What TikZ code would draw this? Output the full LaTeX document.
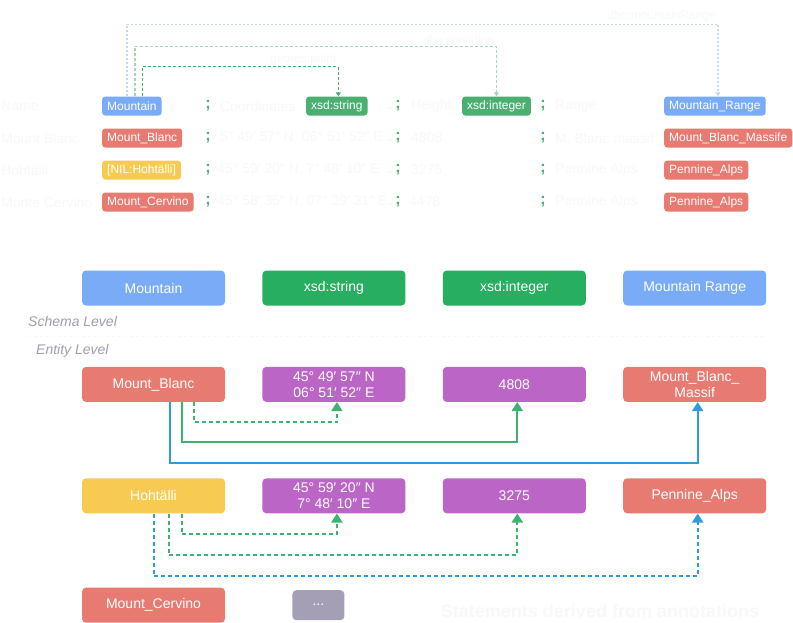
\documentclass[tikz,border=0pt]{standalone}
\usepackage{fontspec}
\setmainfont{Liberation Sans}
\usetikzlibrary{positioning,arrows.meta}

\definecolor{kgblue}{HTML}{7AABF7}
\definecolor{kggreen}{HTML}{27AE60}
\definecolor{kgred}{HTML}{E77B72}
\definecolor{kgpurple}{HTML}{BB66C7}
\definecolor{kgyellow}{HTML}{F7CB52}
\definecolor{kggray}{HTML}{A59FB6}
\definecolor{taggreen}{HTML}{4CAF72}
\definecolor{linkblue}{HTML}{2D9CDB}
\definecolor{linkgreen}{HTML}{3CB371}
\definecolor{paleblue}{HTML}{C3D5F8}
\definecolor{palegreen}{HTML}{A8D5B6}
\definecolor{levelgray}{HTML}{A29DB2}
\definecolor{faint}{HTML}{F8F8F8}

\tikzset{
  box/.style={rounded corners=4pt, minimum width=143pt, minimum height=35pt,
    inner sep=0pt, text=white, align=center, font=\fontsize{14}{16}\selectfont},
  tag/.style={rounded corners=3pt, minimum height=19pt, inner xsep=5pt,
    inner ysep=0pt, text=white, anchor=west, font=\fontsize{12}{14}\selectfont},
  faintcell/.style={text=faint, anchor=west, inner sep=0pt,
    font=\fontsize{14}{16}\selectfont},
  faintlabel/.style={text=faint, inner sep=1.5pt, font=\fontsize{12}{14}\selectfont},
  semi/.style={text=taggreen, inner sep=0pt, font=\fontsize{16}{18}\selectfont\bfseries},
  level/.style={text=levelgray, anchor=west, inner sep=0pt,
    font=\fontsize{14}{16}\selectfont\itshape},
  link/.style={line width=2pt, -{Triangle[width=11pt,length=9pt]}},
  dashlink/.style={link, dash pattern=on 4pt off 3pt},
  hop/.style={line width=1.3pt, -{Triangle[width=5pt,length=4pt]}},
}

\begin{document}
\begin{tikzpicture}[x=1pt, y=-1pt]
  \useasboundingbox[fill=white] (0,0) rectangle (793,622);

  % Define nodes (annotation table)
  \node[faintcell] (n1) at (1,106) {Name};
  \node[faintcell] (n2) at (1,138) {Mount Blanc};
  \node[faintcell] (n3) at (1,170) {Hohtälli};
  \node[faintcell] (n4) at (1,202) {Monte Cervino};
  \node[faintcell] (c1) at (220,106) {Coordinates};
  \node[faintcell] (c2) at (220,138) {5° 49′ 57″ N, 06° 51′ 52″ E};
  \node[faintcell] (c3) at (217,170) {45° 59′ 20″ N, 7° 48′ 10″ E};
  \node[faintcell] (c4) at (217,202) {45° 58′ 35″ N, 07° 39′ 31″ E};
  \node[faintcell] (e1) at (411,106) {Height};
  \node[faintcell] (e2) at (411,138) {4808};
  \node[faintcell] (e3) at (411,170) {3275};
  \node[faintcell] (e4) at (409,202) {4478};
  \node[faintcell] (r1) at (555,106) {Range};
  \node[faintcell] (r2) at (555,138) {M. Blanc massif};
  \node[faintcell] (r3) at (555,170) {Pennine Alps};
  \node[faintcell] (r4) at (555,202) {Pennine Alps};

  \node[semi] (s11) at (208,106) {;}; \node[semi] (s12) at (398,106) {;}; \node[semi] (s13) at (543,106) {;};
  \node[semi] (s21) at (208,138) {;}; \node[semi] (s22) at (398,138) {;}; \node[semi] (s23) at (543,138) {;};
  \node[semi] (s31) at (208,170) {;}; \node[semi] (s32) at (398,170) {;}; \node[semi] (s33) at (543,170) {;};
  \node[semi] (s41) at (208,202) {;}; \node[semi] (s42) at (398,202) {;}; \node[semi] (s43) at (543,202) {;};

  \node[tag, fill=kgblue]   (mtag)     at (102,106) {Mountain};
  \node[tag, fill=taggreen] (stag)     at (306,106) {xsd:string};
  \node[tag, fill=taggreen] (itag)     at (462,106) {xsd:integer};
  \node[tag, fill=kgblue]   (rtag)     at (664,106) {Mountain\_Range};
  \node[tag, fill=kgred]    (bltag)    at (102,138) {Mount\_Blanc};
  \node[tag, fill=kgred]    (massiftag) at (664,138) {Mount\_Blanc\_Massife};
  \node[tag, fill=kgyellow] (niltag)   at (102,170) {[NIL:Hohtälli]};
  \node[tag, fill=kgred]    (penAtag)  at (664,170) {Pennine\_Alps};
  \node[tag, fill=kgred]    (cervtag)  at (102,202) {Mount\_Cervino};
  \node[tag, fill=kgred]    (penBtag)  at (664,202) {Pennine\_Alps};

  % Connect nodes (annotation table)
  \draw[hop, paleblue, dash pattern=on 2pt off 2pt] ([xshift=-5pt]mtag.north) -- ++(0,-72)
    -| node[pos=0.5, faintlabel, anchor=south east] (lrange) {dbo:mountainRange} ([xshift=3pt]rtag.north);
  \draw[hop, palegreen, dash pattern=on 3pt off 2pt] ([xshift=3pt]mtag.north) -- ++(0,-50)
    -| node[pos=0.5, faintlabel, anchor=south east] (lelev) {dbo:elevation} (itag.north);
  \draw[hop, taggreen, line width=1pt, dash pattern=on 3pt off 2pt] ([xshift=11pt]mtag.north) -- ++(0,-29.5)
    -| node[pos=0.5, faintlabel, anchor=south east] (lpoint) {geores:point} ([xshift=1.5pt]stag.north);

  % Define nodes (graph)
  \node[box, fill=kgblue] (mountain) at (153.5,288) {Mountain};
  \node[box, fill=kggreen, right=37pt of mountain] (string) {xsd:string};
  \node[box, fill=kggreen, right=37pt of string] (integer) {xsd:integer};
  \node[box, fill=kgblue, right=37pt of integer] (range) {Mountain Range};

  \node[level] (schema) at (28,321) {Schema Level};
  \node[level] (entity) at (36,351) {Entity Level};
  \draw[faint, dashed] (28,336) -- (764,336);

  \node[box, fill=kgred, below=61pt of mountain] (blanc) {Mount\_Blanc};
  \node[box, fill=kgpurple, right=37pt of blanc] (coordA) {45° 49′ 57″ N\\06° 51′ 52″ E};
  \node[box, fill=kgpurple, right=37pt of coordA] (heightA) {4808};
  \node[box, fill=kgred, right=37pt of heightA] (massif) {Mount\_Blanc\_\\Massif};

  \node[box, fill=kgyellow, below=76pt of blanc] (hoht) {Hohtälli};
  \node[box, fill=kgpurple, right=37pt of hoht] (coordB) {45° 59′ 20″ N\\7° 48′ 10″ E};
  \node[box, fill=kgpurple, right=37pt of coordB] (heightB) {3275};
  \node[box, fill=kgred, right=37pt of heightB] (pennine) {Pennine\_Alps};

  \node[box, fill=kgred, below=74pt of hoht] (cervino) {Mount\_Cervino};
  \node[box, fill=kggray, minimum width=52pt, minimum height=30pt, right=67pt of cervino] (more) {...};

  \node[text=faint, font=\fontsize{18}{20}\selectfont\bfseries] (derived) at (600,611) {Statements derived from annotations};

  % Connect nodes (graph)
  \draw[dashlink, linkgreen] ([xshift=40pt]blanc.south) -- ++(0,20) -| ([xshift=3pt]coordA.south);
  \draw[link, linkgreen] ([xshift=28pt]blanc.south) -- ++(0,40) -| ([xshift=3pt]heightA.south);
  \draw[link, linkblue] ([xshift=16pt]blanc.south) -- ++(0,61) -| ([xshift=3pt]massif.south);

  \draw[dashlink, linkgreen] ([xshift=28pt]hoht.south) -- ++(0,20.5) -| ([xshift=3pt]coordB.south);
  \draw[dashlink, linkgreen] ([xshift=15pt]hoht.south) -- ++(0,41.5) -| ([xshift=3pt]heightB.south);
  \draw[dashlink, linkblue] (hoht.south) -- ++(0,62.5) -| ([xshift=3pt]pennine.south);
\end{tikzpicture}
\end{document}
